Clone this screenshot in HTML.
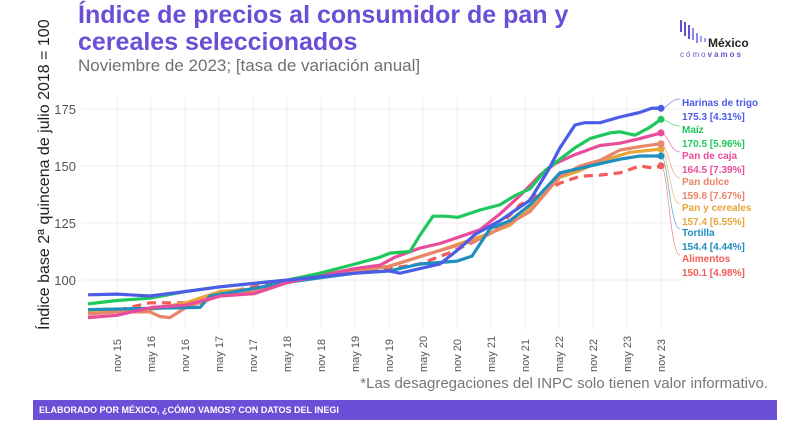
<!DOCTYPE html>
<html><head><meta charset="utf-8"><style>
body{margin:0;width:796px;height:435px;background:#fff;overflow:hidden;font-family:"Liberation Sans","DejaVu Sans",sans-serif;position:relative}
.t{position:absolute;left:78px;top:2px;color:#6a4fd6;font-weight:bold;font-size:25px;line-height:27px}
.s{position:absolute;left:78px;top:56px;color:#707070;font-size:17px}
.foot{position:absolute;left:33px;top:400px;width:744px;height:20px;background:#6b4fd6;color:#fff;font-size:9px;font-weight:bold;line-height:20px;padding-left:6px;box-sizing:border-box}
.note{position:absolute;right:28px;top:375px;color:#777;font-size:15px}
</style></head><body>
<div class="t">Índice de precios al consumidor de pan y<br>cereales seleccionados</div>
<div class="s">Noviembre de 2023; [tasa de variación anual]</div>
<div class="note">*Las desagregaciones del INPC solo tienen valor informativo.</div>
<div class="foot">ELABORADO POR MÉXICO, ¿CÓMO VAMOS? CON DATOS DEL INEGI</div>
<svg id="c" width="796" height="435" style="position:absolute;left:0;top:0" xmlns="http://www.w3.org/2000/svg">
<g font-family="Liberation Sans, sans-serif">
<g fill="#6a4fd6"><rect x="680" y="20" width="2" height="12"/><rect x="684" y="22" width="2" height="14"/><rect x="688" y="25" width="2" height="14"/><rect x="692" y="28" width="2" height="12" fill="#8a8af0"/><rect x="696" y="33" width="2" height="10" fill="#8a8af0"/><rect x="700" y="36" width="2" height="6" fill="#9aa0f0"/><rect x="704" y="38" width="2" height="4" fill="#9aa0f0"/></g>
<text x="708" y="47" font-size="12" font-weight="bold" fill="#222">México</text>
<text x="680" y="57" font-size="8" fill="#6a4fd6" letter-spacing="2">cómo<tspan font-weight="bold">vamos</tspan></text>
<text transform="translate(49,330) rotate(-90)" font-size="16" fill="#222">Índice base 2ª quincena de julio 2018 = 100</text>
</g>
<g id="g"></g>
</svg>
<script>
var g=document.getElementById('g'),ns='http://www.w3.org/2000/svg',h='';
function Y(v){return 280-(v-100)*2.28}
[175,150,125,100].forEach(function(v){h+='<line x1="82" x2="682" y1="'+Y(v)+'" y2="'+Y(v)+'" stroke="#ececec"/><text x="76" y="'+(Y(v)+5)+'" font-size="13" fill="#555" text-anchor="end" font-family="Liberation Sans">'+v+'</text>';});
var labs=['nov 15','may 16','nov 16','may 17','nov 17','may 18','nov 18','may 19','nov 19','may 20','nov 20','may 21','nov 21','may 22','nov 22','may 23','nov 23'];
labs.forEach(function(l,i){var x=117+i*34;h+='<line x1="'+x+'" x2="'+x+'" y1="98" y2="330" stroke="#ececec"/><text transform="translate('+(x+4)+',372) rotate(-90)" font-size="11" fill="#555" font-family="Liberation Sans">'+l+'</text>';});
var S=[
['#f25b57',[[88,86],[110,86],[130,88],[150,90],[186,90],[220,94],[254,97],[288,99],[321,102],[355,104],[389,105],[420,107],[450,112],[480,118],[500,124],[520,133],[540,138],[560,142.5],[580,145.5],[600,146],[620,147],[640,150],[655,149],[661,150.1]],1],
['#e8a53a',[[88,86.5],[150,87],[186,90],[220,95],[254,96],[288,99],[321,102],[355,104],[389,106],[440,113],[480,119],[510,124],[540,136],[560,145],[580,148],[600,152],[630,156],[661,157.4]]],
['#e8866a',[[88,85],[117,86],[150,86],[160,84],[170,83.5],[186,88],[220,93],[254,95],[288,99],[321,102],[355,104],[389,106],[440,113],[480,118],[510,125],[530,130],[560,145.5],[580,150],[600,152.5],[620,157],[640,158.5],[661,159.8]]],
['#1f8fbf',[[88,87],[200,88],[210,93],[250,96],[288,99],[321,101],[355,103],[389,104],[420,107],[457,108.3],[472,110.5],[490,122.5],[510,126],[530,133],[545,140],[560,147],[580,149],[600,151],[620,153],[640,154.4],[661,154.4]]],
['#e84c9a',[[88,83.5],[117,84.5],[152,88],[186,89],[220,93],[254,94],[288,99],[321,102],[355,105],[380,106.5],[395,110],[420,114],[440,116],[460,119],[480,122],[500,129],[520,137],[540,146],[555,151],[575,155],[600,159],[620,160],[640,162],[661,164.5]]],
['#1ec85a',[[88,89.5],[117,91],[150,92],[186,95],[220,97],[288,100],[320,103],[355,107],[380,110],[390,111.8],[410,112.5],[420,119.7],[433,128],[445,128],[458,127.5],[480,130.7],[500,133],[515,137],[530,140],[545,148],[560,153],[575,158],[590,162],[610,164.5],[620,165],[635,163.5],[650,167],[661,170.5]]],
['#4c5ce6',[[88,93.5],[117,93.8],[150,93],[186,95],[220,97],[254,98.5],[288,100],[321,101.5],[355,103],[389,104],[400,103],[420,105],[440,107],[460,114],[475,120],[500,126],[530,135],[548,148],[560,158],[575,168],[585,169],[600,169],[620,171.5],[640,173.5],[652,175.4],[661,175.3]]]
];
S.forEach(function(s){var d=s[1].map(function(p,i){return (i?'L':'M')+p[0]+' '+Y(p[1]).toFixed(1)}).join('');
h+='<path d="'+d+'" fill="none" stroke="'+s[0]+'" stroke-width="3.2" stroke-linejoin="round"'+(s[2]?' stroke-dasharray="9 6"':'')+'/>';
var e=s[1][s[1].length-1];h+='<circle cx="661" cy="'+Y(e[1]).toFixed(1)+'" r="3.5" fill="'+s[0]+'"/>';});
var L=[['#4c5ce6','Harinas de trigo','175.3 [4.31%]',103,175.3],['#1ec85a','Maíz','170.5 [5.96%]',130,170.5],['#e84c9a','Pan de caja','164.5 [7.39%]',156,164.5],['#e8866a','Pan dulce','159.8 [7.67%]',182,159.8],['#e8a53a','Pan y cereales','157.4 [6.55%]',208,157.4],['#1f8fbf','Tortilla','154.4 [4.44%]',233,154.4],['#f25b57','Alimentos','150.1 [4.98%]',259,150.1]];
L.forEach(function(l){var ey=Y(l[4]);h+='<path d="M661 '+ey+' C 668 '+ey+', 670 '+(l[3]-4)+', 680 '+(l[3]-4)+'" fill="none" stroke="'+l[0]+'" stroke-width="0.8" opacity="0.7"/>';
h+='<text x="682" y="'+(l[3]+3)+'" font-size="10" font-weight="bold" fill="'+l[0]+'" font-family="Liberation Sans">'+l[1]+'</text><text x="682" y="'+(l[3]+17)+'" font-size="10" font-weight="bold" fill="'+l[0]+'" font-family="Liberation Sans">'+l[2]+'</text>';});
g.innerHTML=h;
</script>
</body></html>
